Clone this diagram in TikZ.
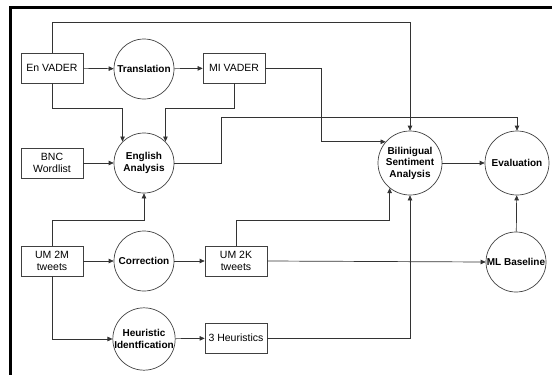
\documentclass[tikz,border=0pt]{standalone}
\usepackage{fontspec}
\setmainfont{Liberation Sans}
\usetikzlibrary{arrows.meta}
\tikzset{
  databox/.style={draw=black!75, line width=0.7pt, minimum width=62pt, minimum height=30pt,
    inner sep=1pt, align=center, font=\fontsize{10.5}{12}\selectfont},
  proc/.style={circle, draw=black!75, line width=0.7pt, minimum size=60pt, inner sep=0pt,
    align=center, font=\fontsize{10}{11.5}\selectfont\bfseries},
  flow/.style={draw=black!80, line width=0.7pt, -{Triangle[length=5pt,width=4.5pt]}}
}

\begin{document}
\begin{tikzpicture}[x=1pt,y=-1pt]
        \useasboundingbox (0,0) rectangle (552,375);
        \draw[line width=3pt] (10,375) -- (10,7) -- (552,7);
        %data
        \node[databox] (envader) at (52,68) {En VADER};
        \node[databox] (bnc) at (52,163) {BNC\\Wordlist};
        \node[databox] (umtwom) at (52,261) {UM 2M\\tweets};
        \node[databox] (mivader) at (234,68) {MI VADER};
        \node[databox] (umtwok) at (236,261) {UM 2K\\tweets};
        \node[databox] (heurthree) at (236,338) {3 Heuristics};
        %processes
        \node[proc] (translation) at (144,69) {Translation};
        \node[proc] (english) at (144,163) {English\\Analysis};
        \node[proc] (correction) at (144,261) {Correction};
        \node[proc] (heuristic) at (144,339) {Heuristic\\Identfication};
        \node[proc, minimum size=64pt] (bilingual) at (410,163) {Bilinigual\\Sentiment\\Analysis};
        \node[proc, minimum size=64pt] (evaluation) at (517,163) {Evaluation};
        \node[proc] (mlbase) at (516,262) {ML Baseline};
        %route levels
        \coordinate (lvltop) at (0,22);
        \coordinate (lvlmid) at (0,108);
        \coordinate (lvleval) at (0,117);
        \coordinate (lvlum) at (0,220);
        \coordinate (bendmi) at (321,0);
        \coordinate (bendea) at (221,0);
        %flows
        \draw[flow] (envader) -- (translation);
        \draw[flow] (translation) -- (mivader);
        \draw[flow] (envader.north) |- (bilingual.north |- lvltop) -- (bilingual.north);
        \draw[flow] (mivader.east) -- (bendmi |- mivader.east) |- (bilingual.139);
        \draw[flow] (envader.south) |- (english.135 |- lvlmid) -- (english.135);
        \draw[flow] (mivader.south) |- (english.45 |- lvlmid) -- (english.45);
        \draw[flow] (bnc) -- (english);
        \draw[flow] (english.east) -| (bendea |- lvleval) -| (evaluation.north);
        \draw[flow] (bilingual) -- (evaluation);
        \draw[flow] (umtwom.north) |- (english.south |- lvlum) -- (english.south);
        \draw[flow] (umtwom) -- (correction);
        \draw[flow] (correction) -- (umtwok);
        \draw[flow] (umtwok.north) |- (bilingual.231 |- lvlum) -- (bilingual.231);
        \draw[flow] (umtwok.east) -- (mlbase.west);
        \draw[flow] (umtwom.south) |- (heuristic.west);
        \draw[flow] (heuristic) -- (heurthree);
        \draw[flow] (heurthree.east) -| (bilingual.south);
        \draw[flow] (mlbase) -- (evaluation);
\end{tikzpicture}
\end{document}
